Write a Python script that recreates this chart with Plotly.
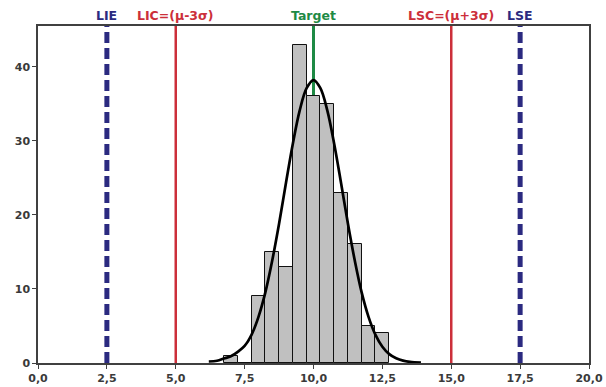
import plotly.graph_objects as go

# ---- data ----
bin_centers = [7.0, 7.5, 8.0, 8.5, 9.0, 9.5, 10.0, 10.5, 11.0, 11.5, 12.0, 12.5]
bin_counts = [1, 0, 9, 15, 13, 43, 36, 35, 23, 16, 5, 4]
bin_width = 0.5

curve_x = [6.2, 6.5, 6.75, 7.0, 7.25, 7.5, 7.75, 8.0, 8.25, 8.5, 8.75, 9.0, 9.25, 9.5, 9.75,
           10.0, 10.25, 10.5, 10.75, 11.0, 11.25, 11.5, 11.75, 12.0, 12.25, 12.5, 12.75,
           13.0, 13.25, 13.5, 13.9]
curve_y = [0.2, 0.3, 0.6, 0.9, 1.5, 2.3, 3.8, 6.2, 9.5, 13.8, 18.8, 24.3, 29.6, 34.1, 37.1,
           38.2, 37.1, 34.1, 29.6, 24.3, 18.8, 13.8, 9.5, 6.2, 3.8, 2.2, 1.2,
           0.65, 0.32, 0.15, 0.05]

limit_labels = ["LIE", "LIC=(\u03bc-3\u03c3)", "Target", "LSC=(\u03bc+3\u03c3)", "LSE"]
limit_values = [2.5, 5.0, 10.0, 15.0, 17.5]

x_tick_vals = [0, 2.5, 5, 7.5, 10, 12.5, 15, 17.5, 20]
x_tick_text = ["0,0", "2,5", "5,0", "7,5", "10,0", "12,5", "15,0", "17,5", "20,0"]
y_tick_vals = [0, 10, 20, 30, 40]

# ---- styles ----
navy = "#2B2A80"
red = "#CC2F3A"
green = "#1E8A45"
limit_colors = [navy, red, green, red, navy]
limit_widths = [5, 2.5, 3, 2.5, 5]
limit_dash = ["11px,5px", "solid", "solid", "solid", "11px,5px"]

fig = go.Figure()
fig.add_trace(go.Bar(
    x=bin_centers, y=bin_counts, width=bin_width,
    marker=dict(color="#C0C0C0", line=dict(color="#111111", width=1)),
    showlegend=False, hoverinfo="x+y"))
fig.add_trace(go.Scatter(
    x=curve_x, y=curve_y, mode="lines", line=dict(color="#000000", width=2.7, shape="spline"),
    showlegend=False))

for lab, v, c, w, d in zip(limit_labels, limit_values, limit_colors, limit_widths, limit_dash):
    fig.add_shape(type="line", xref="x", yref="paper", x0=v, x1=v, y0=0, y1=1,
                  line=dict(color=c, width=w, dash=d), layer="below")
    fig.add_annotation(x=v, xref="x", y=1, yref="paper", yanchor="bottom", text=lab,
                       showarrow=False, yshift=1,
                       font=dict(family="DejaVu Sans", size=12.5, color=c, weight="bold"))

axis_font = dict(family="DejaVu Sans", size=11, color="#3A3A3A", weight="bold")
fig.update_layout(
    width=606, height=387,
    margin=dict(l=38, r=17, t=26, b=24),
    paper_bgcolor="white", plot_bgcolor="white",
    bargap=0,
    xaxis=dict(range=[0, 20], tickvals=x_tick_vals, ticktext=x_tick_text,
               showgrid=False, zeroline=False, showline=True, mirror=True,
               linecolor="#404040", linewidth=1.5, ticks="outside", ticklen=4,
               tickcolor="#404040", tickfont=axis_font, automargin=False),
    yaxis=dict(range=[0, 45.5], tickvals=y_tick_vals,
               showgrid=False, zeroline=False, showline=True, mirror=True,
               linecolor="#404040", linewidth=1.5, ticks="outside", ticklen=4,
               tickcolor="#404040", tickfont=axis_font, automargin=False),
)

fig.write_html(
    "out.html",
    config={"displayModeBar": False},
    post_script="document.body.style.margin='0';document.body.style.overflow='hidden';",
)
